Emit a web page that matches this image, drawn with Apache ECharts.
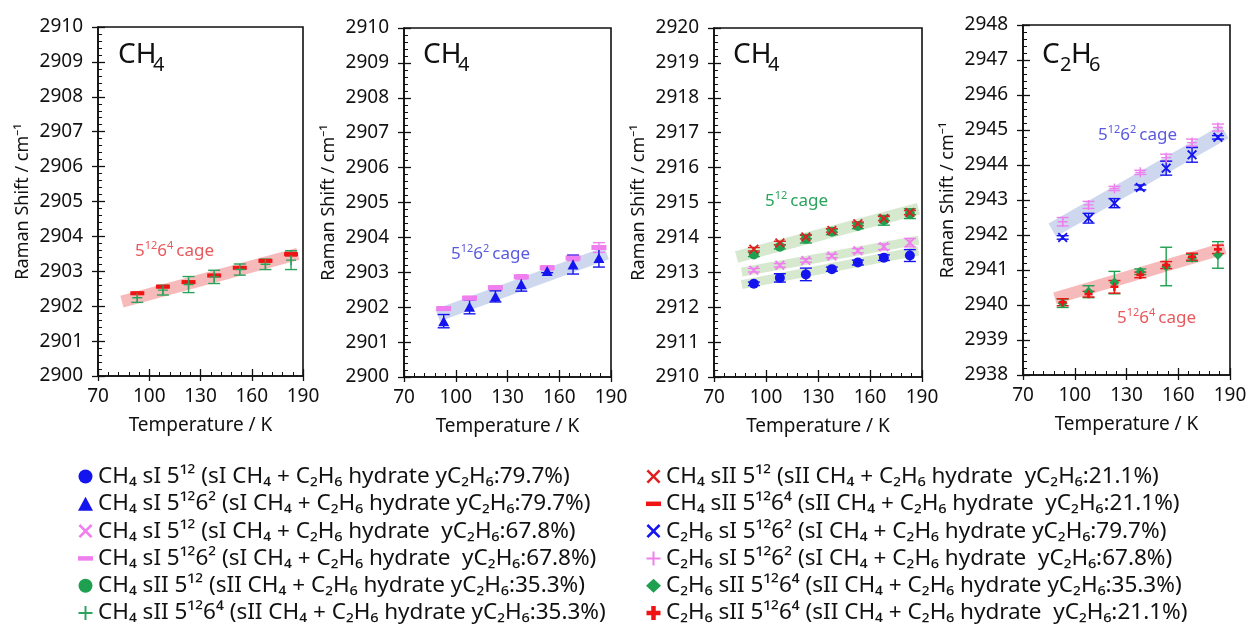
<!DOCTYPE html>
<html><head><meta charset="utf-8">
<script src="https://cdn.jsdelivr.net/npm/echarts@6/dist/echarts.min.js"></script>
<style>html,body{margin:0;padding:0;background:#fff}#c{width:1250px;height:628px}</style>
</head><body><div id="c"></div>
<script>
// ---------- DATA ----------
const temps = [93, 108, 123, 138, 153, 168, 183];
const xTicks = [70, 100, 130, 160, 190];
const yRanges = [[2900, 2910], [2900, 2910], [2910, 2920], [2938, 2948]];
const panelTitles = [['CH', '4'], ['CH', '4'], ['CH', '4'], ['C', '2', 'H', '6']];

// Panel 1 (CH4, sII 5^12 6^4)
const ch4_sII_51264_353 = [2902.24, 2902.46, 2902.62, 2902.84, 2903.05, 2903.20, 2903.32];
const ch4_sII_51264_353_err = [0.13, 0.14, 0.23, 0.19, 0.16, 0.15, 0.27];
const ch4_sII_51264_211 = [2902.37, 2902.56, 2902.69, 2902.88, 2903.10, 2903.30, 2903.49];
const ch4_sII_51264_211_err = [0.03, 0.03, 0.03, 0.03, 0.03, 0.03, 0.05];
// Panel 2 (CH4, sI 5^12 6^2)
const ch4_sI_51262_797 = [2901.60, 2902.01, 2902.31, 2902.66, 2903.04, 2903.22, 2903.41];
const ch4_sI_51262_797_err = [0.19, 0.20, 0.16, 0.20, 0.05, 0.27, 0.26];
const ch4_sI_51262_678 = [2901.96, 2902.26, 2902.56, 2902.87, 2903.13, 2903.41, 2903.71];
const ch4_sI_51262_678_err = [0.05, 0.05, 0.05, 0.06, 0.06, 0.08, 0.14];
// Panel 3 (CH4, 5^12)
const ch4_sI_512_797 = [2912.67, 2912.84, 2912.94, 2913.09, 2913.28, 2913.42, 2913.48];
const ch4_sI_512_797_err = [0.05, 0.12, 0.18, 0.06, 0.07, 0.08, 0.17];
const ch4_sI_512_678 = [2913.06, 2913.20, 2913.34, 2913.47, 2913.62, 2913.73, 2913.85];
const ch4_sI_512_678_err = [0.05, 0.05, 0.05, 0.05, 0.06, 0.08, 0.12];
const ch4_sII_512_353 = [2913.51, 2913.73, 2913.96, 2914.16, 2914.33, 2914.49, 2914.68];
const ch4_sII_512_353_err = [0.06, 0.06, 0.12, 0.08, 0.08, 0.14, 0.14];
const ch4_sII_512_211 = [2913.66, 2913.84, 2914.01, 2914.20, 2914.39, 2914.54, 2914.71];
const ch4_sII_512_211_err = [0.05, 0.05, 0.05, 0.05, 0.05, 0.06, 0.06];
// Panel 4 (C2H6)
const c2h6_sI_51262_797 = [2941.93, 2942.48, 2942.91, 2943.36, 2943.91, 2944.29, 2944.79];
const c2h6_sI_51262_797_err = [0.05, 0.14, 0.13, 0.07, 0.20, 0.21, 0.05];
const c2h6_sI_51262_678 = [2942.38, 2942.86, 2943.33, 2943.79, 2944.21, 2944.64, 2945.07];
const c2h6_sI_51262_678_err = [0.12, 0.10, 0.06, 0.06, 0.10, 0.10, 0.10];
const c2h6_sII_51264_353 = [2940.05, 2940.38, 2940.64, 2940.95, 2941.10, 2941.35, 2941.43];
const c2h6_sII_51264_353_err = [0.12, 0.17, 0.32, 0.08, 0.55, 0.10, 0.38];
const c2h6_sII_51264_211 = [2940.08, 2940.31, 2940.52, 2940.86, 2941.14, 2941.38, 2941.59];
const c2h6_sII_51264_211_err = [0.10, 0.08, 0.18, 0.08, 0.10, 0.10, 0.12];

// Guide bands (start / end points, [T, shift])
const bandP1 = [[84, 2902.13], [187, 2903.50]];
const bandP2 = [[89.5, 2901.77], [187.5, 2903.55]];
const bandP3a = [[83, 2913.44], [188, 2914.82]];
const bandP3b = [[86, 2913.01], [188, 2913.92]];
const bandP3c = [[86, 2912.645], [188, 2913.61]];
const bandP4a = [[87, 2942.14], [187, 2944.95]];
const bandP4b = [[88.5, 2940.19], [187, 2941.62]];

// ---------- STYLE ----------
const FONT = 'Noto Sans';
const BLUE = '#1414ee', PINK = '#ef7eef', GREEN = '#1f9f50', RED = '#ee1414';
const BAND_RED = '#f7baba', BAND_BLUE = '#cdd8ee', BAND_GREEN = '#d6e9cf';
const X_PATH = 'path://M1.3,0L5,3.7L8.7,0L10,1.3L6.3,5L10,8.7L8.7,10L5,6.3L1.3,10L0,8.7L3.7,5L0,1.3Z';
const PLUS_THIN = 'path://M4.3,0H5.7V4.3H10V5.7H5.7V10H4.3V5.7H0V4.3H4.3Z';
const PLUS_THICK = 'path://M3.4,0H6.6V3.4H10V6.6H6.6V10H3.4V6.6H0V3.4H3.4Z';
const DASH = 'path://M0,0H10V3H0Z';

const grids = [
  {left: 98, top: 27, width: 205, height: 349},
  {left: 404, top: 28, width: 207, height: 349},
  {left: 714, top: 28, width: 208, height: 349},
  {left: 1023, top: 25, width: 207, height: 350}
];

const names = {
  a: 'CH₄ sI 5¹² (sI CH₄ + C₂H₆ hydrate yC₂H₆:79.7%)',
  b: 'CH₄ sI 5¹²6² (sI CH₄ + C₂H₆ hydrate yC₂H₆:79.7%)',
  c: 'CH₄ sI 5¹² (sI CH₄ + C₂H₆ hydrate  yC₂H₆:67.8%)',
  d: 'CH₄ sI 5¹²6² (sI CH₄ + C₂H₆ hydrate  yC₂H₆:67.8%)',
  e: 'CH₄ sII 5¹² (sII CH₄ + C₂H₆ hydrate yC₂H₆:35.3%)',
  f: 'CH₄ sII 5¹²6⁴ (sII CH₄ + C₂H₆ hydrate yC₂H₆:35.3%)',
  g: 'CH₄ sII 5¹² (sII CH₄ + C₂H₆ hydrate  yC₂H₆:21.1%)',
  h: 'CH₄ sII 5¹²6⁴ (sII CH₄ + C₂H₆ hydrate  yC₂H₆:21.1%)',
  i: 'C₂H₆ sI 5¹²6² (sI CH₄ + C₂H₆ hydrate yC₂H₆:79.7%)',
  j: 'C₂H₆ sI 5¹²6² (sI CH₄ + C₂H₆ hydrate  yC₂H₆:67.8%)',
  k: 'C₂H₆ sII 5¹²6⁴ (sII CH₄ + C₂H₆ hydrate yC₂H₆:35.3%)',
  l: 'C₂H₆ sII 5¹²6⁴ (sII CH₄ + C₂H₆ hydrate  yC₂H₆:21.1%)'
};

// ---------- AXES ----------
const xAxis = [], yAxis = [];
grids.forEach((g, i) => {
  xAxis.push({
    type: 'value', gridIndex: i, min: 70, max: 190, interval: 30, position: 'bottom',
    axisLine: {show: true, onZero: false, lineStyle: {color: '#111', width: 1.6}},
    axisTick: {show: true, inside: true, length: 7, lineStyle: {color: '#111', width: 1.3}},
    minorTick: {show: true, splitNumber: 5, length: 4, lineStyle: {color: '#111', width: 1}},
    splitLine: {show: false},
    axisLabel: {color: '#111', fontSize: 19, fontFamily: FONT, margin: 11, formatter: v => String(v)},
    name: 'Temperature / K', nameLocation: 'middle', nameGap: 40,
    nameTextStyle: {color: '#111', fontSize: 19, fontFamily: FONT}
  });
  yAxis.push({
    type: 'value', gridIndex: i, min: yRanges[i][0], max: yRanges[i][1], interval: 1, position: 'left',
    axisLine: {show: true, onZero: false, lineStyle: {color: '#111', width: 1.6}},
    axisTick: {show: true, inside: true, length: 7, lineStyle: {color: '#111', width: 1.3}},
    minorTick: {show: true, splitNumber: 5, length: 4, lineStyle: {color: '#111', width: 1}},
    splitLine: {show: false},
    axisLabel: {color: '#111', fontSize: 19, fontFamily: FONT, margin: 15, formatter: v => String(v)},
    name: 'Raman Shift / cm⁻¹', nameLocation: 'middle', nameGap: 66,
    nameTextStyle: {color: '#111', fontSize: 18, fontFamily: FONT}
  });
});
// overlay axes: outward stubs of major ticks
grids.forEach((g, i) => {
  xAxis.push({
    type: 'value', gridIndex: i, min: 70, max: 190, interval: 30, position: 'bottom',
    axisLine: {show: false}, axisLabel: {show: false}, splitLine: {show: false},
    axisTick: {show: true, inside: false, length: 5, lineStyle: {color: '#111', width: 1.3}}
  });
  yAxis.push({
    type: 'value', gridIndex: i, min: yRanges[i][0], max: yRanges[i][1], interval: 1, position: 'left',
    axisLine: {show: false}, axisLabel: {show: false}, splitLine: {show: false},
    axisTick: {show: true, inside: false, length: 6, lineStyle: {color: '#111', width: 1.3}}
  });
});

// ---------- SERIES ----------
const series = [];
function band(pts, gi, color, w) {
  series.push({
    type: 'line', xAxisIndex: gi, yAxisIndex: gi, data: pts, symbol: 'none', silent: true,
    lineStyle: {color: color, width: w, cap: 'butt'}, z: 1, animation: false
  });
}
function pts(vals) { return temps.map((t, k) => [t, vals[k]]); }
function errBars(vals, errs, gi, color, name) {
  series.push({
    type: 'custom', name: name + ' err', xAxisIndex: gi, yAxisIndex: gi,
    data: temps.map((t, k) => [t, vals[k], errs[k]]), silent: true, z: 3, animation: false,
    encode: {x: 0, y: 1},
    renderItem: function (params, api) {
      const x = api.value(0), y = api.value(1), e = api.value(2);
      const top = api.coord([x, y + e]), bot = api.coord([x, y - e]);
      const hw = 6, st = {stroke: color, lineWidth: 1.4};
      return {type: 'group', children: [
        {type: 'line', shape: {x1: top[0], y1: top[1], x2: bot[0], y2: bot[1]}, style: st},
        {type: 'line', shape: {x1: top[0] - hw, y1: top[1], x2: top[0] + hw, y2: top[1]}, style: st},
        {type: 'line', shape: {x1: bot[0] - hw, y1: bot[1], x2: bot[0] + hw, y2: bot[1]}, style: st}
      ]};
    }
  });
}
function scatter(name, vals, errs, gi, color, symbol, size) {
  errBars(vals, errs, gi, color, name);
  series.push({
    type: 'scatter', name: name, xAxisIndex: gi, yAxisIndex: gi, data: pts(vals),
    symbol: symbol, symbolSize: size, itemStyle: {color: color, opacity: 1}, z: 4, animation: false
  });
}

band(bandP1, 0, BAND_RED, 12);
band(bandP2, 1, BAND_BLUE, 13);
band(bandP3a, 2, BAND_GREEN, 12);
band(bandP3b, 2, BAND_GREEN, 9);
band(bandP3c, 2, BAND_GREEN, 9);
band(bandP4a, 3, BAND_BLUE, 15);
band(bandP4b, 3, BAND_RED, 12);

scatter(names.h, ch4_sII_51264_211, ch4_sII_51264_211_err, 0, RED, 'rect', [14, 4]);
scatter(names.f, ch4_sII_51264_353, ch4_sII_51264_353_err, 0, '#2aa35c', PLUS_THIN, 10);

scatter(names.d, ch4_sI_51262_678, ch4_sI_51262_678_err, 1, PINK, 'rect', [15, 5]);
scatter(names.b, ch4_sI_51262_797, ch4_sI_51262_797_err, 1, BLUE, 'triangle', [11, 10]);

scatter(names.a, ch4_sI_512_797, ch4_sI_512_797_err, 2, BLUE, 'circle', 10);
scatter(names.c, ch4_sI_512_678, ch4_sI_512_678_err, 2, PINK, X_PATH, 10);
scatter(names.e, ch4_sII_512_353, ch4_sII_512_353_err, 2, GREEN, 'circle', 10);
scatter(names.g, ch4_sII_512_211, ch4_sII_512_211_err, 2, '#dd2020', X_PATH, 10);

scatter(names.j, c2h6_sI_51262_678, c2h6_sI_51262_678_err, 3, PINK, PLUS_THIN, 10);
scatter(names.i, c2h6_sI_51262_797, c2h6_sI_51262_797_err, 3, BLUE, X_PATH, 10);
scatter(names.k, c2h6_sII_51264_353, c2h6_sII_51264_353_err, 3, GREEN, 'diamond', 10);
scatter(names.l, c2h6_sII_51264_211, c2h6_sII_51264_211_err, 3, RED, PLUS_THICK, 8);

// ---------- LEGENDS ----------
const legendText = {color: '#111', fontSize: 22.5, fontFamily: FONT, lineHeight: 22};
const legend1 = [
  {name: names.a, icon: 'circle'}, {name: names.b, icon: 'triangle'},
  {name: names.c, icon: X_PATH}, {name: names.d, icon: DASH},
  {name: names.e, icon: 'circle'}, {name: names.f, icon: PLUS_THIN}
];
const legend2 = [
  {name: names.g, icon: X_PATH}, {name: names.h, icon: DASH},
  {name: names.i, icon: X_PATH}, {name: names.j, icon: PLUS_THIN},
  {name: names.k, icon: 'diamond'}, {name: names.l, icon: PLUS_THICK}
];

// ---------- TEXT GRAPHICS ----------
const graphic = [];
const titlePos = [[118, 41], [423, 41], [733, 41], [1042, 41]];
titlePos.forEach((p, i) => {
  const parts = panelTitles[i];
  let x = p[0];
  parts.forEach((s, k) => {
    const sub = k % 2 === 1;
    graphic.push({type: 'text', x: x, y: sub ? p[1] + 14 : p[1], silent: true,
      style: {text: s, fill: '#111', fontSize: sub ? 20 : 28, fontFamily: FONT, verticalAlign: 'top'}});
    x += sub ? 11 : (s === 'CH' ? 35 : 18);
  });
});
function cage(x, y, exps, color) {
  let t = '';
  exps.forEach((s, k) => { t += (k % 2 === 0 ? '{n|' : '{s|') + s + '}'; });
  t += '{c|cage}';
  graphic.push({type: 'text', x: x, y: y, silent: true,
    style: {text: t, fill: color, fontFamily: FONT, verticalAlign: 'top',
      rich: {n: {fontSize: 17, fill: color, lineHeight: 20, fontFamily: FONT, verticalAlign: 'bottom'},
             c: {fontSize: 17, fill: color, lineHeight: 20, fontFamily: FONT, verticalAlign: 'bottom', padding: [0, 0, 0, 3]},
             s: {fontSize: 11, fill: color, lineHeight: 20, fontFamily: FONT, verticalAlign: 'top'}}}});
}
cage(135, 240, ['5', '12', '6', '4'], '#e8585c');
cage(451, 243, ['5', '12', '6', '2'], '#5a5ae0');
cage(765, 190, ['5', '12'], '#2aa35c');
cage(1098, 124, ['5', '12', '6', '2'], '#5a5ae0');
cage(1117, 307, ['5', '12', '6', '4'], '#e8585c');

const chart = echarts.init(document.getElementById('c'), null, {renderer: 'canvas'});
chart.setOption({
  backgroundColor: '#fff',
  animation: false,
  textStyle: {fontFamily: FONT},
  grid: grids.map(g => Object.assign({show: true, borderColor: '#111', borderWidth: 1.6, backgroundColor: 'transparent', outerBoundsMode: 'none'}, g)),
  xAxis: xAxis,
  yAxis: yAxis,
  legend: [
    {orient: 'vertical', left: 78, top: 465, width: 560, height: 300, itemWidth: 15, itemHeight: 14, itemGap: 4.3, selectedMode: false,
     textStyle: legendText, data: legend1, padding: 0},
    {orient: 'vertical', left: 646, top: 465, width: 600, height: 300, itemWidth: 15, itemHeight: 14, itemGap: 4.3, selectedMode: false,
     textStyle: legendText, data: legend2, padding: 0}
  ],
  graphic: graphic,
  series: series
});
</script></body></html>
